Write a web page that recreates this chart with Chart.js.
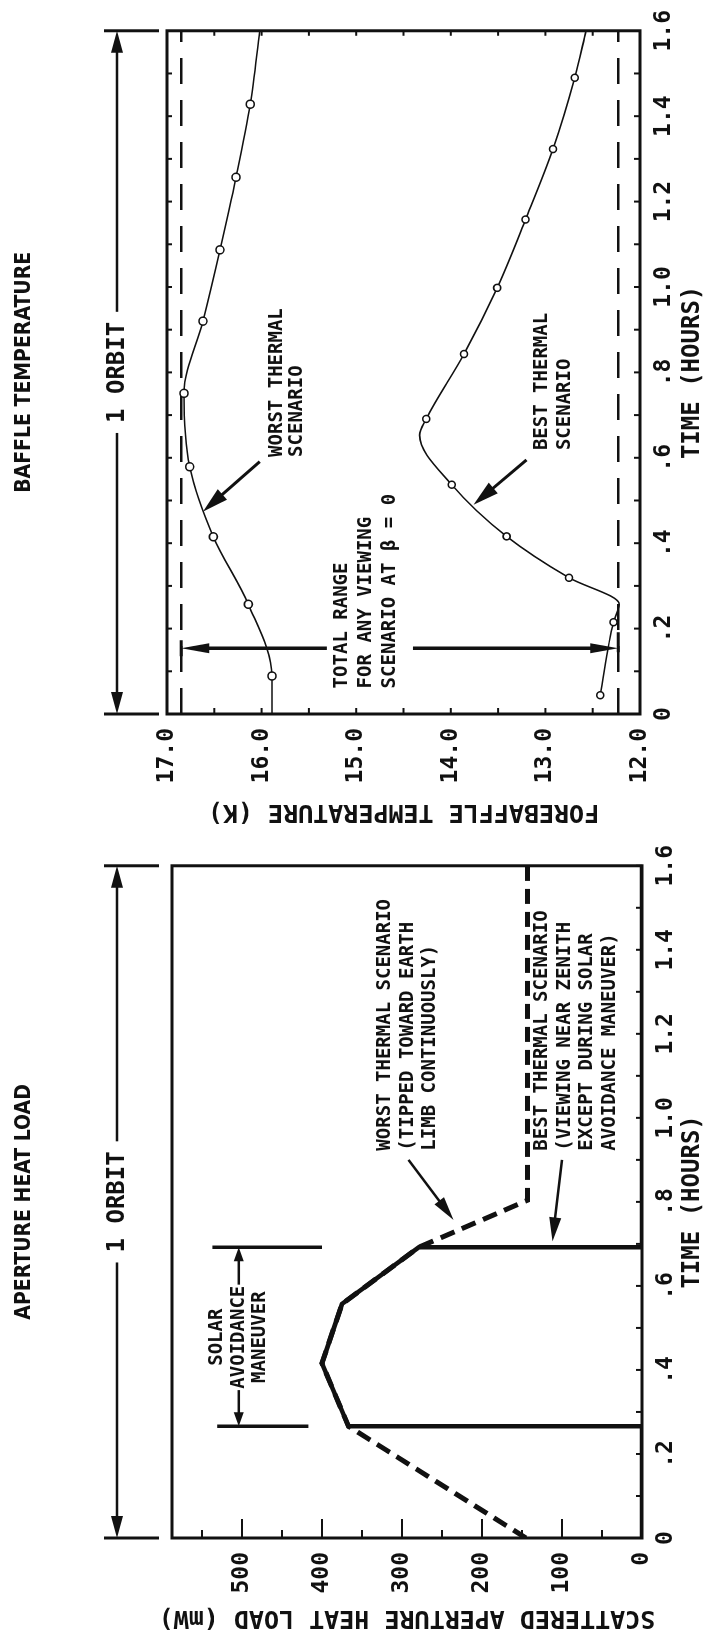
<!DOCTYPE html>
<html lang="en">
<head>
<meta charset="UTF-8">
<title>Aperture Heat Load / Baffle Temperature</title>
<script src="https://cdn.jsdelivr.net/npm/chart.js@4.4.1/dist/chart.umd.min.js"></script>
<style>
  body { margin: 0; background: #fff; overflow: hidden; }
  /* the figure is drawn landscape and turned a quarter turn, like the printed page */
  #sheet { position: absolute; left: 0; top: 0; width: 1635px; height: 705px;
           transform-origin: 0 0; transform: translateY(1635px) rotate(-90deg); }
  #sheet canvas { position: absolute; top: 0; }
</style>
</head>
<body>
<div id="sheet">
  <canvas id="heatChart" width="800" height="705" style="left:0"></canvas>
  <canvas id="baffleChart" width="835" height="705" style="left:800px"></canvas>
</div>

<script>
// aperture heat load (mW) against time (hours)
const heatWorstTime = [0, 0.266, 0.416, 0.557, 0.692, 0.804, 1.6];
const heatWorstLoad = [145, 367, 400, 375, 279, 143, 143];
const heatBestTime = [0, 0.266, 0.266, 0.416, 0.557, 0.692, 0.692, 1.6];
const heatBestLoad = [0, 0, 367, 400, 375, 279, 0, 0];
const heatTicks = [0, 100, 200, 300, 400, 500];
const heatMax = 587.5;
const solarTimes = [0.266, 0.692];

// forebaffle temperature (K) against time (hours)
const baffleWorstTime = [0, 0.089, 0.257, 0.415, 0.579, 0.751, 0.920, 1.087, 1.257, 1.428, 1.6];
const baffleWorstTemp = [15.89, 15.89, 16.14, 16.51, 16.76, 16.82, 16.62, 16.44, 16.27, 16.12, 16.02];
const baffleWorstPlain = [0, 10];
const baffleBestTime = [0.044, 0.215, 0.257, 0.319, 0.416, 0.537, 0.653, 0.691, 0.843, 0.998, 1.158, 1.323, 1.490, 1.6];
const baffleBestTemp = [12.42, 12.28, 12.22, 12.75, 13.41, 13.99, 14.33, 14.26, 13.86, 13.51, 13.21, 12.92, 12.69, 12.57];
const baffleBestPlain = [2, 6, 13];
const baffleRange = [16.85, 12.23];
const tempTicks = [12, 13, 14, 15, 16, 17];
const tempTickLabels = ['12.0', '13.0', '14.0', '15.0', '16.0', '17.0'];

const timeTicks = [0, 0.2, 0.4, 0.6, 0.8, 1.0, 1.2, 1.4, 1.6];
const timeTickLabels = ['0', '.2', '.4', '.6', '.8', '1.0', '1.2', '1.4', '1.6'];

const ink = '#111';
const mono = "'DejaVu Sans Mono', 'Liberation Mono', monospace";
const narrow = "'DejaVu Sans Condensed', 'DejaVu Sans', sans-serif";

function pairs(xs, ys) {
    return xs.map((x, i) => ({ x: x, y: ys[i] }));
}

function head(ctx, x1, y1, x2, y2, len, half) {
    const a = Math.atan2(y2 - y1, x2 - x1);
    const c = Math.cos(a), s = Math.sin(a);
    ctx.beginPath();
    ctx.moveTo(x2, y2);
    ctx.lineTo(x2 - len * c + half * s, y2 - len * s - half * c);
    ctx.lineTo(x2 - len * c - half * s, y2 - len * s + half * c);
    ctx.closePath();
    ctx.fill();
}

function arrow(ctx, x1, y1, x2, y2, w, len, half) {
    const a = Math.atan2(y2 - y1, x2 - x1);
    ctx.lineWidth = w;
    ctx.beginPath();
    ctx.moveTo(x1, y1);
    ctx.lineTo(x2 - len * 0.7 * Math.cos(a), y2 - len * 0.7 * Math.sin(a));
    ctx.stroke();
    head(ctx, x1, y1, x2, y2, len, half);
}

function seg(ctx, x1, y1, x2, y2, w) {
    ctx.lineWidth = w;
    ctx.beginPath();
    ctx.moveTo(x1, y1);
    ctx.lineTo(x2, y2);
    ctx.stroke();
}

function textLines(ctx, lines, x, y, gap, font, align) {
    ctx.font = font;
    ctx.textAlign = align || 'left';
    ctx.textBaseline = 'middle';
    lines.forEach((t, i) => ctx.fillText(t, x, y + i * gap));
}

// frame, title and the "1 ORBIT" span above each panel
function panelFrame(chart, title) {
    const { ctx, chartArea: a, scales: { x } } = chart;
    ctx.lineWidth = 3;
    ctx.strokeRect(a.left, a.top, a.right - a.left, a.bottom - a.top);

    const mid = x.getPixelForValue(0.8);
    textLines(ctx, [title], mid, 25, 0, 'bold 21px ' + narrow, 'center');

    const x0 = x.getPixelForValue(0), x1 = x.getPixelForValue(1.6);
    const yo = 117;
    seg(ctx, x0, 104, x0, 159, 3);
    seg(ctx, x1, 104, x1, 159, 3);
    ctx.font = 'bold 24px ' + mono;
    const half = ctx.measureText('1 ORBIT').width / 2 + 10;
    arrow(ctx, mid - half, yo, x0, yo, 2.5, 22, 6);
    arrow(ctx, mid + half, yo, x1, yo, 2.5, 22, 6);
    textLines(ctx, ['1 ORBIT'], mid, yo + 1, 0, 'bold 24px ' + mono, 'center');
}

function tickMarks(ctx, scale, values, from, dir, len) {
    ctx.lineWidth = 2;
    values.forEach(v => {
        const p = scale.getPixelForValue(v);
        ctx.beginPath();
        if (scale.isHorizontal()) { ctx.moveTo(p, from); ctx.lineTo(p, from + dir * len); }
        else { ctx.moveTo(from, p); ctx.lineTo(from + dir * len, p); }
        ctx.stroke();
    });
}

function steps(lo, hi, step) {
    const out = [];
    for (let v = lo; v <= hi + 1e-9; v += step) out.push(Math.round(v * 1000) / 1000);
    return out;
}

const heatDecor = {
    id: 'heatDecor',
    afterDraw(chart) {
        const { ctx, chartArea: a, scales: { x, y } } = chart;
        ctx.save();
        ctx.strokeStyle = ink;
        ctx.fillStyle = ink;
        panelFrame(chart, 'APERTURE HEAT LOAD');

        tickMarks(ctx, y, steps(0, 550, 100), a.left, 1, 19);
        tickMarks(ctx, y, steps(50, 550, 100), a.left, 1, 8);
        tickMarks(ctx, x, steps(0, 1.6, 0.1), a.bottom, -1, 6);

        // solar avoidance bracket
        const lo = x.getPixelForValue(solarTimes[0]), hi = x.getPixelForValue(solarTimes[1]);
        seg(ctx, lo, y.getPixelForValue(531), lo, y.getPixelForValue(417), 3.5);
        seg(ctx, hi, y.getPixelForValue(537), hi, y.getPixelForValue(400), 3.5);
        const mid = x.getPixelForValue(0.478);
        textLines(ctx, ['SOLAR', 'AVOIDANCE', 'MANEUVER'], mid, y.getPixelForValue(531), 21.6,
            'bold 19px ' + mono, 'center');
        const ya = y.getPixelForValue(504);
        arrow(ctx, x.getPixelForValue(0.352), ya, lo, ya, 2.5, 14, 5);
        arrow(ctx, x.getPixelForValue(0.603), ya, hi, ya, 2.5, 14, 5);

        // scenario labels, arrows start just below the lettering
        const tx = x.getPixelForValue(0.922);
        textLines(ctx, ['WORST THERMAL SCENARIO', '(TIPPED TOWARD EARTH', 'LIMB CONTINUOUSLY)'],
            tx, y.getPixelForValue(321), 22.5, 'bold 19px ' + mono);
        textLines(ctx, ['BEST THERMAL SCENARIO', '(VIEWING NEAR ZENITH', 'EXCEPT DURING SOLAR', 'AVOIDANCE MANEUVER)'],
            tx, y.getPixelForValue(125), 22.7, 'bold 19px ' + mono);
        arrow(ctx, x.getPixelForValue(0.900), y.getPixelForValue(292),
            x.getPixelForValue(0.757), y.getPixelForValue(235.5), 2.5, 24, 6);
        arrow(ctx, x.getPixelForValue(0.900), y.getPixelForValue(100),
            x.getPixelForValue(0.706), y.getPixelForValue(112), 2.5, 24, 6);
        ctx.restore();
    }
};

const baffleDecor = {
    id: 'baffleDecor',
    afterDraw(chart) {
        const { ctx, chartArea: a, scales: { x, y } } = chart;
        ctx.save();
        ctx.strokeStyle = ink;
        ctx.fillStyle = ink;
        panelFrame(chart, 'BAFFLE TEMPERATURE');

        tickMarks(ctx, x, steps(0.1, 1.5, 0.1), a.bottom, -1, 6);
        tickMarks(ctx, x, steps(0.1, 1.5, 0.1), a.top, 1, 5);
        tickMarks(ctx, y, steps(12.5, 16.5, 0.5), a.left, 1, 6);
        tickMarks(ctx, y, steps(12.5, 16.5, 0.5), a.right, -1, 5);

        textLines(ctx, ['WORST THERMAL', 'SCENARIO'], x.getPixelForValue(0.602), y.getPixelForValue(15.84), 20,
            'bold 19px ' + mono);
        textLines(ctx, ['BEST THERMAL', 'SCENARIO'], x.getPixelForValue(0.618), y.getPixelForValue(13.04), 23,
            'bold 19px ' + mono);
        arrow(ctx, x.getPixelForValue(0.591), y.getPixelForValue(16.02),
            x.getPixelForValue(0.474), y.getPixelForValue(16.62), 3, 26, 7);
        arrow(ctx, x.getPixelForValue(0.595), y.getPixelForValue(13.20),
            x.getPixelForValue(0.490), y.getPixelForValue(13.76), 3, 26, 7);

        // total range span between the two dashed limits
        textLines(ctx, ['TOTAL RANGE', 'FOR ANY VIEWING', 'SCENARIO AT \u03b2 = 0'],
            x.getPixelForValue(0.060), y.getPixelForValue(15.15), 24, 'bold 19px ' + mono);
        const xr = x.getPixelForValue(0.154);
        const top = y.getPixelForValue(baffleRange[0]), bot = y.getPixelForValue(baffleRange[1]);
        arrow(ctx, xr, y.getPixelForValue(15.31), xr, top, 3.5, 28, 5);
        arrow(ctx, xr, y.getPixelForValue(14.40), xr, bot, 3.5, 28, 5);
        seg(ctx, xr - 8, top, xr + 8, top, 3);
        seg(ctx, xr - 4, bot, xr + 16, bot, 3);
        ctx.restore();
    }
};

function timeAxis(height) {
    return {
        type: 'linear', min: 0, max: 1.6,
        afterBuildTicks: s => { s.ticks = timeTicks.map(v => ({ value: v })); },
        afterFit: s => { s.height = height; },
        grid: { display: false, drawTicks: false },
        border: { display: false },
        ticks: {
            callback: (v, i) => timeTickLabels[i],
            color: ink, padding: 10, maxRotation: 0, autoSkip: false,
            font: { family: mono, size: 23, weight: 'bold' }
        },
        title: {
            display: true, text: 'TIME (HOURS)', color: ink, padding: 0,
            font: { family: mono, size: 24, weight: 'bold', lineHeight: 1 }
        }
    };
}

new Chart(document.getElementById('heatChart'), {
    type: 'line',
    data: {
        datasets: [
            {
                label: 'Worst thermal scenario',
                data: pairs(heatWorstTime, heatWorstLoad),
                borderColor: ink, borderWidth: 5, borderDash: [15, 8],
                pointRadius: 0, tension: 0, order: 0
            },
            {
                label: 'Best thermal scenario',
                data: pairs(heatBestTime, heatBestLoad),
                borderColor: ink, borderWidth: 4.5,
                pointRadius: 0, tension: 0, order: 1
            }
        ]
    },
    options: {
        responsive: false, animation: false, devicePixelRatio: 1,
        layout: { padding: { left: 0, top: 172, right: 24, bottom: 0 } },
        plugins: { legend: { display: false }, tooltip: { enabled: false } },
        scales: {
            x: timeAxis(63),
            y: {
                min: 0, max: heatMax,
                afterBuildTicks: s => { s.ticks = heatTicks.map(v => ({ value: v })); },
                afterFit: s => { s.width = 97; },
                grid: { display: false, drawTicks: false },
                border: { display: false },
                ticks: { color: ink, padding: 14, font: { family: mono, size: 23, weight: 'bold' } },
                title: {
                    display: true, text: 'SCATTERED APERTURE HEAT LOAD (mW)', color: ink,
                    padding: { top: 2, bottom: 0 },
                    font: { family: mono, size: 25, weight: 'bold', lineHeight: 1.2 }
                }
            }
        }
    },
    plugins: [heatDecor]
});

new Chart(document.getElementById('baffleChart'), {
    type: 'line',
    data: {
        datasets: [
            {
                label: 'Worst thermal scenario',
                data: pairs(baffleWorstTime, baffleWorstTemp),
                borderColor: ink, borderWidth: 1.6, cubicInterpolationMode: 'monotone',
                pointRadius: c => baffleWorstPlain.includes(c.dataIndex) ? 0 : 4,
                pointBackgroundColor: '#fff', pointBorderColor: ink, pointBorderWidth: 1.6
            },
            {
                label: 'Best thermal scenario',
                data: pairs(baffleBestTime, baffleBestTemp),
                borderColor: ink, borderWidth: 1.6, cubicInterpolationMode: 'monotone',
                pointRadius: c => baffleBestPlain.includes(c.dataIndex) ? 0 : 3.5,
                pointBackgroundColor: '#fff', pointBorderColor: ink, pointBorderWidth: 1.6
            },
            {
                label: 'Upper limit',
                data: pairs([0, 1.6], [baffleRange[0], baffleRange[0]]),
                borderColor: ink, borderWidth: 2.5, borderDash: [26, 16], pointRadius: 0
            },
            {
                label: 'Lower limit',
                data: pairs([0, 1.6], [baffleRange[1], baffleRange[1]]),
                borderColor: ink, borderWidth: 2.5, borderDash: [26, 16], pointRadius: 0
            }
        ]
    },
    options: {
        responsive: false, animation: false, devicePixelRatio: 1,
        layout: { padding: { left: 0, top: 167, right: 26, bottom: 0 } },
        plugins: { legend: { display: false }, tooltip: { enabled: false } },
        scales: {
            x: timeAxis(65),
            y: {
                min: 12, max: 17,
                afterBuildTicks: s => { s.ticks = tempTicks.map(v => ({ value: v })); },
                afterFit: s => { s.width = 121; },
                grid: { display: false, drawTicks: false },
                border: { display: false },
                ticks: {
                    callback: (v, i) => tempTickLabels[i],
                    color: ink, padding: 14, font: { family: mono, size: 23, weight: 'bold' }
                },
                title: {
                    display: true, text: 'FOREBAFFLE TEMPERATURE (K)', color: ink,
                    padding: { top: 8, bottom: 0 },
                    font: { family: mono, size: 25, weight: 'bold', lineHeight: 1.2 }
                }
            }
        }
    },
    plugins: [baffleDecor]
});
</script>
</body>
</html>
